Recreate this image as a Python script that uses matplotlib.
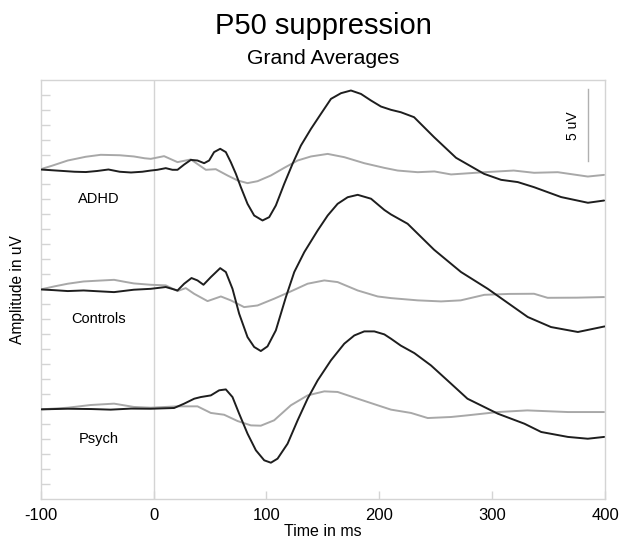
import matplotlib
matplotlib.use("Agg")
import matplotlib.pyplot as plt

plt.rcParams['font.family'] = ['Liberation Sans', 'DejaVu Sans']

# ---- data (uV, ms) ----
adhd_black_t = [-100, -90, -80, -70, -60, -50, -40, -30, -20, -10, -2.5, 3.4, 10.8, 16.7, 21.2, 27.1, 33, 38.9, 44.8, 49.2, 53.6, 59, 64, 68.4, 72.9, 77.3, 83.2, 89.1, 96.5, 102.4, 108.3, 115.7, 123.1, 130.5, 139.4, 148.2, 157.1, 166, 174.8, 183.7, 192.6, 201.4, 210.3, 219, 230.7, 248.4, 267.9, 292.7, 307.8, 322.6, 337, 361, 384.7, 399]
adhd_black_v = [0, -0.05, -0.1, -0.15, -0.17, -0.1, 0, -0.15, -0.2, -0.15, -0.07, -0.02, 0.09, -0.02, -0.02, 0.33, 0.64, 0.6, 0.42, 0.6, 1.16, 1.38, 1.16, 0.49, -0.29, -1.18, -2.29, -3.07, -3.4, -3.18, -2.4, -0.96, 0.38, 1.6, 2.71, 3.71, 4.71, 5.09, 5.27, 5.04, 4.6, 4.2, 3.98, 3.82, 3.49, 2.16, 0.78, -0.29, -0.69, -0.84, -1.18, -1.84, -2.22, -2.07]
adhd_gray_t = [-100, -90, -76, -60, -46.8, -30, -17.5, -8, -2.5, 9.3, 21.2, 33, 46.3, 55.1, 65.5, 74.4, 83.2, 92.1, 103.9, 115.7, 127.6, 139.4, 154.2, 169, 186.6, 204.3, 216.2, 233.9, 248.7, 263.5, 293, 319, 337, 358, 384.6, 399]
adhd_gray_v = [0.02, 0.25, 0.6, 0.85, 0.98, 0.95, 0.87, 0.75, 0.71, 0.89, 0.49, 0.67, -0.02, 0.02, -0.4, -0.73, -0.91, -0.78, -0.4, 0.11, 0.6, 0.87, 1.04, 0.82, 0.42, 0.11, -0.07, -0.18, -0.13, -0.33, -0.18, -0.07, -0.22, -0.18, -0.47, -0.36]

ctrl_black_t = [-100, -88, -76, -62, -50, -35, -17.5, -2.5, 10.8, 21.2, 27.1, 33.6, 38.9, 44.2, 50.7, 59, 64, 69.9, 75.8, 83.2, 89.1, 95, 100.9, 108.3, 117.2, 124.6, 133.5, 145.3, 154.2, 163, 171.9, 180.8, 192.6, 204.4, 210.3, 225, 248.4, 272.3, 296, 331.4, 352, 375.8, 399.4]
ctrl_black_v = [0, -0.05, -0.11, -0.07, -0.12, -0.18, -0.02, 0.04, 0.16, -0.07, 0.38, 0.76, 0.6, 0.31, 0.82, 1.42, 1.16, 0.04, -1.62, -3.18, -3.84, -4.11, -3.8, -2.73, -0.51, 1.16, 2.49, 3.93, 4.93, 5.71, 6.15, 6.31, 6.05, 5.3, 5.0, 4.38, 2.65, 1.16, 0.04, -1.84, -2.51, -2.84, -2.47]
ctrl_gray_t = [-100, -88, -76, -62, -50, -35, -25, -17.5, -2.5, 10.8, 21.2, 28.5, 35.9, 47.8, 59.6, 68.4, 80.2, 92.1, 106.8, 121.6, 136.4, 151.2, 163, 180.8, 198.5, 210.3, 234, 254.6, 272, 293, 315, 337, 349, 375, 399]
ctrl_gray_v = [0, 0.2, 0.38, 0.53, 0.58, 0.64, 0.5, 0.4, 0.31, 0.27, -0.11, 0.09, -0.29, -0.78, -0.47, -0.73, -1.18, -1.07, -0.62, -0.13, 0.38, 0.6, 0.49, -0.07, -0.47, -0.58, -0.73, -0.8, -0.73, -0.36, -0.3, -0.29, -0.56, -0.55, -0.51]

psych_black_t = [-100, -76, -55, -38, -20, -2.5, 18.2, 27.1, 36, 41.8, 50.7, 58.1, 64, 69.9, 75.8, 83.2, 90.6, 98, 103.9, 109.8, 118.7, 127.6, 136.4, 145.3, 157.1, 168.9, 177.8, 186.6, 195.5, 204.4, 210.3, 219, 231, 245.7, 263.5, 278, 304.9, 328.5, 343.3, 367, 384.6, 399]
psych_black_v = [0, 0.04, 0.02, -0.02, 0.05, 0.04, 0.09, 0.38, 0.71, 0.82, 0.93, 1.27, 1.33, 0.82, -0.29, -1.62, -2.73, -3.4, -3.56, -3.29, -2.29, -0.73, 0.71, 1.93, 3.27, 4.38, 4.93, 5.2, 5.2, 5.0, 4.71, 4.25, 3.75, 2.93, 1.71, 0.71, -0.29, -0.96, -1.51, -1.84, -1.96, -1.84]
psych_gray_t = [-100, -88, -76, -55.7, -35, -17.5, -2.5, 21.2, 38.9, 50.7, 62.5, 74.4, 86.2, 95, 106.8, 121.6, 136.4, 151.2, 163, 180.8, 198.5, 210.3, 228, 242.8, 263.5, 278, 304.9, 331, 367, 399]
psych_gray_v = [0, 0.05, 0.11, 0.29, 0.38, 0.16, 0.11, 0.2, 0.2, -0.24, -0.36, -0.78, -1.07, -1.09, -0.73, 0.27, 0.93, 1.2, 1.16, 0.71, 0.27, -0.02, -0.24, -0.58, -0.51, -0.4, -0.18, -0.07, -0.18, -0.18]

groups = ["ADHD", "Controls", "Psych"]
offsets = [0, -8, -16]
x_ticks = [-100, 0, 100, 200, 300, 400]

series = [
    (adhd_black_t, adhd_black_v, adhd_gray_t, adhd_gray_v),
    (ctrl_black_t, ctrl_black_v, ctrl_gray_t, ctrl_gray_v),
    (psych_black_t, psych_black_v, psych_gray_t, psych_gray_v),
]

fig = plt.figure(figsize=(6.19, 5.43), dpi=100)
ax = fig.add_axes([0.0657, 0.0805, 0.912, 0.773])

frame_col = '#d4d4d4'
ax.axvline(0, color=frame_col, lw=1.0, zorder=1)

for (bt, bv, gt, gv), off, name in zip(series, offsets, groups):
    ax.plot(gt, [v + off for v in gv], color='#a8a8a8', lw=1.4, zorder=2,
            solid_joinstyle='round', solid_capstyle='round')
    ax.plot(bt, [v + off for v in bv], color='#1e1e1e', lw=1.4, zorder=3,
            solid_joinstyle='round', solid_capstyle='round')
    ax.text(-48.5, off - 2.0, name, ha='center', va='center', fontsize=10.5)

# scale bar
ax.plot([385, 385], [0.55, 5.4], color='#b0b0b0', lw=1.0)
ax.text(371.5, 2.95, "5 uV", rotation=90, ha='center', va='center', fontsize=10)

ax.set_xlim(-100, 400)
ax.set_ylim(-22, 6)
ax.set_xticks(x_ticks)
ax.set_xticklabels([str(v) for v in x_ticks], fontsize=12)
ax.set_yticks(list(range(-21, 6)))
ax.set_yticklabels([])
ax.tick_params(axis='both', direction='in', color=frame_col, width=1.0)
ax.tick_params(axis='y', length=6.5)
ax.tick_params(axis='x', length=6, pad=6)
for s in ax.spines.values():
    s.set_color(frame_col)
    s.set_linewidth(1.0)

ax.set_xlabel("Time in ms", fontsize=11.5, labelpad=1)
ax.set_ylabel("Amplitude in uV", fontsize=11.2, labelpad=8)

fig.text(0.522, 0.952, "P50 suppression", ha='center', va='center', fontsize=21)
fig.text(0.522, 0.893, "Grand Averages", ha='center', va='center', fontsize=15.2)

fig.savefig("out.png", dpi=100)
